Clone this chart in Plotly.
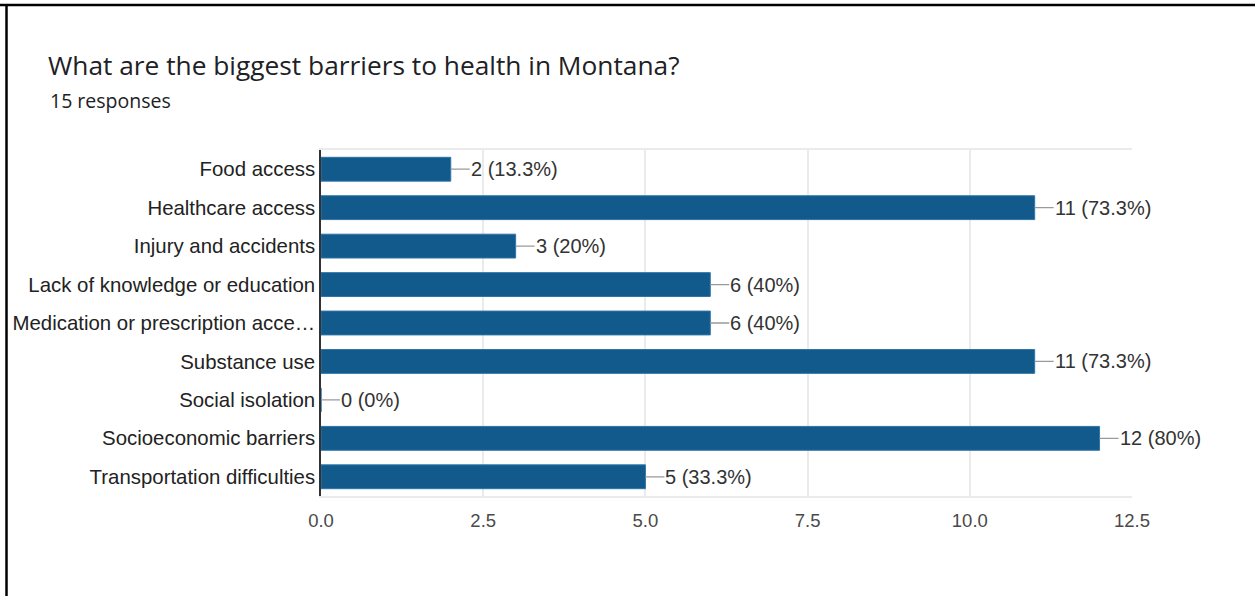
import plotly.graph_objects as go

# Survey results: "What are the biggest barriers to health in Montana?"
categories = [
    "Food access",
    "Healthcare access",
    "Injury and accidents",
    "Lack of knowledge or education",
    "Medication or prescription acce…",
    "Substance use",
    "Social isolation",
    "Socioeconomic barriers",
    "Transportation difficulties",
]
counts = [2, 11, 3, 6, 6, 11, 0, 12, 5]
total_responses = 15
x_ticks = [0.0, 2.5, 5.0, 7.5, 10.0, 12.5]

W, H = 1255, 596
ML, MR, MT, MB = 321, 123, 150, 100
PW, PH = W - ML - MR, H - MT - MB

BAR = "#125a8b"
LABEL_FONT = "Liberation Sans, Arial, sans-serif"
HEAD_FONT = "Open Sans, Roboto, sans-serif"


def px_to_paper_x(px):
    return (px - ML) / PW


def px_to_paper_y(py):
    return 1 - (py - MT) / PH


fig = go.Figure(
    go.Bar(
        x=counts,
        y=categories,
        orientation="h",
        marker=dict(color=BAR, line=dict(color="#2f74a6", width=1)),
        width=0.62,
        hoverinfo="x+y",
    )
)

# value labels with a short grey leader line
for cat, v in zip(categories, counts):
    pct = round(v / total_responses * 100, 1)
    fig.add_annotation(
        x=v, y=cat, xref="x", yref="y",
        text=f"{v} ({pct:g}%)",
        showarrow=True, arrowhead=0, arrowwidth=1.3, arrowcolor="#9a9a9a",
        ax=19, ay=0, xanchor="left", yanchor="middle",
        borderpad=0,
        font=dict(family=LABEL_FONT, size=20, color="#333333"),
    )

# subtitle
fig.add_annotation(
    x=px_to_paper_x(48), y=px_to_paper_y(101), xref="paper", yref="paper",
    text="15 responses", showarrow=False, xanchor="left", yanchor="middle",
    font=dict(family=HEAD_FONT, size=19.5, color="#202124"),
)

# black frame edges along the top and left
fig.add_shape(type="line", xref="paper", yref="paper",
              x0=px_to_paper_x(0), x1=px_to_paper_x(W),
              y0=px_to_paper_y(5), y1=px_to_paper_y(5),
              line=dict(color="black", width=2.5))
fig.add_shape(type="line", xref="paper", yref="paper",
              x0=px_to_paper_x(6.5), x1=px_to_paper_x(6.5),
              y0=px_to_paper_y(4), y1=px_to_paper_y(H),
              line=dict(color="black", width=2.5))

fig.update_layout(
    width=W, height=H,
    margin=dict(l=ML, r=MR, t=MT, b=MB, autoexpand=False),
    paper_bgcolor="white", plot_bgcolor="white",
    showlegend=False,
    title=dict(
        text="What are the biggest barriers to health in Montana?",
        x=48 / W, xref="container", xanchor="left",
        y=1 - 66 / H, yref="container", yanchor="middle",
        font=dict(family=HEAD_FONT, size=26.3, color="#202124"),
    ),
    bargap=0.38,
    xaxis=dict(
        range=[0, 12.5], tickvals=x_ticks, tickformat=".1f",
        showgrid=True, gridcolor="#ebebeb", gridwidth=1.5,
        showline=True, linecolor="#ebebeb", linewidth=1.5, mirror=True,
        zeroline=False, ticks="", ticklabelstandoff=7,
        tickfont=dict(family=LABEL_FONT, size=18.5, color="#4a4a4a"),
    ),
    yaxis=dict(
        autorange="reversed",
        showline=True, linecolor="#333333", linewidth=1.5,
        showgrid=False, ticks="", ticklabelstandoff=0,
        tickfont=dict(family=LABEL_FONT, size=20.4, color="#222222"),
    ),
)

fig.write_html("out.html")
